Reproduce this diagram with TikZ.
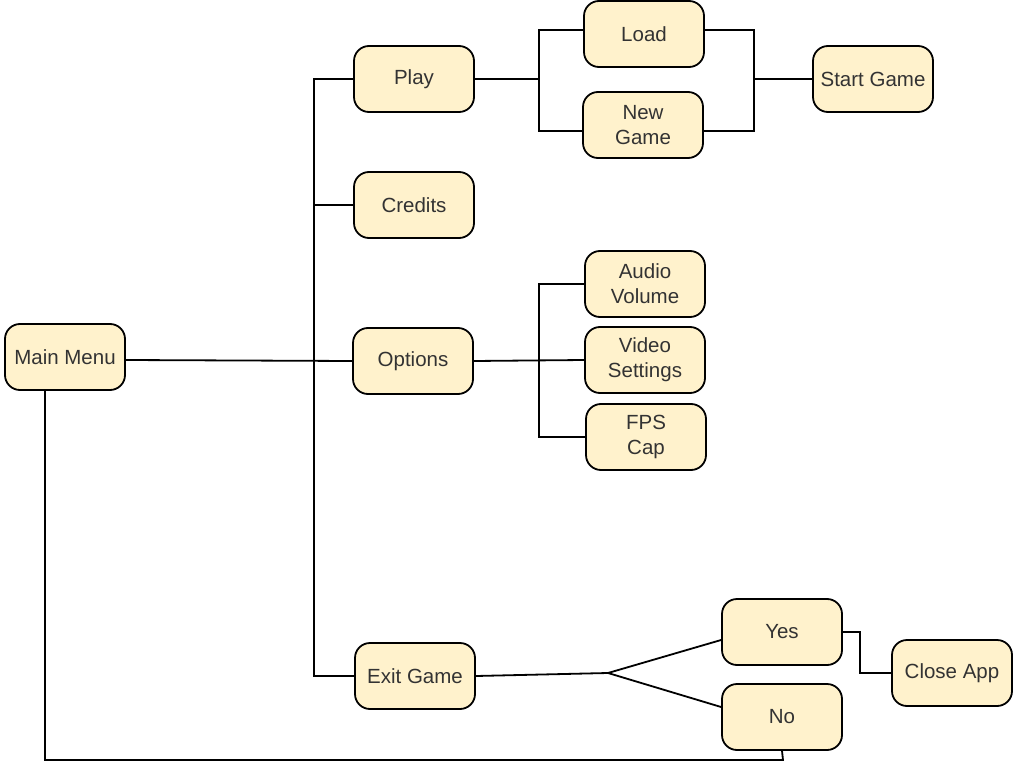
\documentclass[tikz,border=0pt]{standalone}
\usepackage{fontspec}
\setmainfont{Liberation Sans}
\definecolor{menufill}{HTML}{FFF2CC}
\definecolor{menutext}{HTML}{333333}
\tikzset{every path/.style={line width=1.8pt}}
\tikzset{menubox/.style={draw, rounded corners=15pt, fill=menufill, minimum width=120pt, minimum height=66pt, align=center, text=menutext, font=\fontsize{20.5}{25}\selectfont}}

\begin{document}
\begin{tikzpicture}[x=1pt,y=-1pt]
\useasboundingbox (0,0) rectangle (1020,770);

\node[menubox] (main) at (65,357) {Main Menu};
\node[menubox] (play) at (414,79) {Play};
\node[menubox] (cred) at (414,205) {Credits};
\node[menubox] (opt) at (413,361) {Options};
\node[menubox] (exit) at (415,676) {Exit Game};
\node[menubox] (load) at (644,34) {Load};
\node[menubox] (new) at (643,125) {New\\Game};
\node[menubox] (start) at (873,79) {Start Game};
\node[menubox] (aud) at (645,284) {Audio\\Volume};
\node[menubox] (vid) at (645,360) {Video\\Settings};
\node[menubox] (fps) at (646,437) {FPS\\Cap};
\node[menubox] (yes) at (782,632) {Yes};
\node[menubox] (no) at (782,717) {No};
\node[menubox] (close) at (952,673) {Close App};

\coordinate (trunk) at (314,79);
\coordinate (trunkend) at (314,676);
\coordinate (pj) at (539,79);
\coordinate (sj) at (754,79);
\coordinate (oj) at (539,361);
\coordinate (ej) at (608,673);
\coordinate (yj) at (860,673);
\coordinate (back) at (783,760);

\draw ([yshift=-3pt]main.east) -- (opt.west);
\draw (play.west) -- (trunk) -- (trunkend) -- (exit.west);
\draw (cred.west) -- (cred.west -| trunk);
\draw (play.east) -- (pj);
\draw ([yshift=4pt]load.west) -| (pj) |- ([yshift=-6pt]new.west);
\draw ([yshift=4pt]load.east) -| (sj) |- ([yshift=-6pt]new.east);
\draw (sj) -- (start.west);
\draw (opt.east) -- (vid.west);
\draw (aud.west) -| (oj) |- (fps.west);
\draw (exit.east) -- (ej);
\draw ([yshift=-8pt]yes.west) -- (ej) -- ([yshift=10pt]no.west);
\draw (yes.east) -| (yj) -- (close.west);
\draw ([xshift=-20pt]main.south) |- (back) -- (no.south);
\end{tikzpicture}
\end{document}
